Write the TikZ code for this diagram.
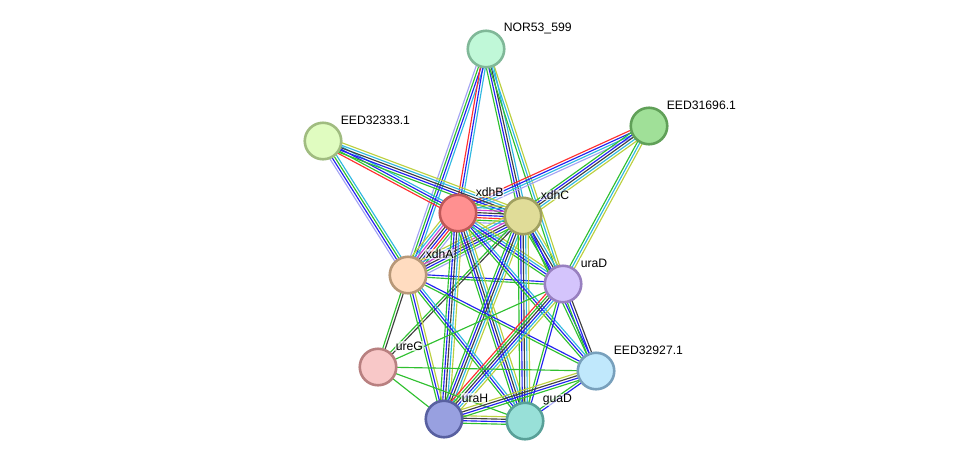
\documentclass[tikz,border=0pt]{standalone}
\usepackage{fontspec}
\setmainfont{Liberation Sans}
\usetikzlibrary{calc,backgrounds}
\definecolor{hom}{HTML}{A4A4F4}
\definecolor{nbr}{HTML}{30C030}
\definecolor{fus}{HTML}{FF3030}
\definecolor{coo}{HTML}{2222F0}
\definecolor{coex}{HTML}{404040}
\definecolor{db}{HTML}{30B8E0}
\definecolor{txt}{HTML}{BCD040}
\definecolor{exp}{HTML}{D040D0}
\definecolor{fnor}{HTML}{C0F8D8}\definecolor{dnor}{HTML}{80B898}
\definecolor{fe316}{HTML}{A0E098}\definecolor{de316}{HTML}{60A058}
\definecolor{fe323}{HTML}{E0FCC0}\definecolor{de323}{HTML}{A0BC80}
\definecolor{fxB}{HTML}{FF9090}\definecolor{dxB}{HTML}{C05858}
\definecolor{fxC}{HTML}{E0DC98}\definecolor{dxC}{HTML}{A0A060}
\definecolor{fxA}{HTML}{FFDCC0}\definecolor{dxA}{HTML}{B89878}
\definecolor{fuD}{HTML}{D4C4FC}\definecolor{duD}{HTML}{9880C0}
\definecolor{fuG}{HTML}{F8C8C8}\definecolor{duG}{HTML}{B88080}
\definecolor{fe329}{HTML}{C0E8FC}\definecolor{de329}{HTML}{78A0BC}
\definecolor{fuH}{HTML}{98A0E0}\definecolor{duH}{HTML}{5860A0}
\definecolor{fgD}{HTML}{98E0D8}\definecolor{dgD}{HTML}{58A098}
\newcommand\bundle[3]{%
  \foreach \c [count=\i] in {#3} {\xdef\bn{\i}}%
  \foreach \c [count=\i] in {#3} {%
    \pgfmathsetmacro\off{(\i-(\bn+1)/2)*2.5}%
    \draw[color=\c, edgeline] ($(#1.center)!\off pt!90:(#2.center)$) -- ($(#2.center)!\off pt!-90:(#1.center)$);
  }%
}
\tikzset{
  prot/.style={circle, minimum size=36.5pt, inner sep=0pt, line width=2.6pt, fill=f#1, draw=d#1},
  edgeline/.style={line width=1.15pt},
  lbl/.style={anchor=west, font=\fontsize{12.2}{13}\selectfont, inner sep=0.6pt, fill=white, fill opacity=0.65, text opacity=1}
}
\begin{document}
\begin{tikzpicture}[x=1pt,y=-1pt]
\useasboundingbox (0,0) rectangle (976,467);
\node[prot=nor] (nor) at (486,49) {};
\node[prot=e316] (e316) at (649,126) {};
\node[prot=e323] (e323) at (323,141) {};
\node[prot=xB] (xB) at (458,213) {};
\node[prot=xC] (xC) at (523,216) {};
\node[prot=xA] (xA) at (408,275) {};
\node[prot=uD] (uD) at (563,284) {};
\node[prot=uG] (uG) at (378,367) {};
\node[prot=e329] (e329) at (596,371) {};
\node[prot=uH] (uH) at (444,419) {};
\node[prot=gD] (gD) at (525,421) {};
\begin{pgfonlayer}{background}
\bundle{nor}{xA}{hom,nbr,coo,db}
\bundle{nor}{xB}{fus,coo,db}
\bundle{nor}{xC}{nbr,coo,coex,db}
\bundle{nor}{uD}{nbr,db,txt}
\bundle{e316}{xB}{fus,coo,db,hom}
\bundle{e316}{xC}{nbr,coo,coex,db,txt}
\bundle{e316}{uD}{nbr,db,txt}
\bundle{e323}{xA}{hom,coo,nbr,db}
\bundle{e323}{xB}{fus,nbr,coo,db}
\bundle{e323}{xC}{nbr,coo,coex,db,txt}
\bundle{xA}{xB}{hom,nbr,fus,coo,coex,exp,db,txt}
\bundle{xB}{xC}{hom,nbr,fus,coo,coex,exp,db,txt}
\bundle{xA}{xC}{hom,nbr,coo,coex,exp,db,txt}
\bundle{xB}{uD}{nbr,coo,db,txt}
\bundle{xC}{uD}{nbr,coo,coex,db,txt}
\bundle{xA}{uD}{nbr,coo}
\bundle{xA}{uG}{nbr,coex}
\bundle{xC}{uG}{nbr,coex}
\bundle{xB}{uH}{nbr,coo,coex,db,txt}
\bundle{xB}{gD}{nbr,coo,coex,db,txt}
\bundle{xC}{uH}{nbr,coo,coex,db,txt}
\bundle{xC}{gD}{nbr,coo,coex,db,txt}
\bundle{xA}{uH}{nbr,coo,txt}
\bundle{xA}{gD}{nbr,coo,db}
\bundle{xA}{e329}{nbr,coo}
\bundle{xB}{e329}{nbr,coo,db}
\bundle{xC}{e329}{nbr,coo}
\bundle{uD}{uH}{fus,nbr,coex,coo,db,txt}
\bundle{uD}{gD}{nbr,coo}
\bundle{uD}{e329}{nbr,coo,coex}
\bundle{uD}{uG}{nbr}
\bundle{uG}{e329}{nbr}
\bundle{uG}{uH}{nbr}
\bundle{uG}{gD}{nbr}
\bundle{uH}{gD}{nbr,coo,coex,txt}
\bundle{uH}{e329}{nbr,coo,coex,txt}
\bundle{gD}{e329}{coo,nbr}
\end{pgfonlayer}
\node[lbl] (lnor) at ($(nor)+(17,-21)$) {NOR53\_599};
\node[lbl] (le316) at ($(e316)+(17,-21)$) {EED31696.1};
\node[lbl] (le323) at ($(e323)+(17,-21)$) {EED32333.1};
\node[lbl] (lxB) at ($(xB)+(17,-21)$) {xdhB};
\node[lbl] (lxC) at ($(xC)+(17,-21)$) {xdhC};
\node[lbl] (lxA) at ($(xA)+(17,-21)$) {xdhA};
\node[lbl] (luD) at ($(uD)+(17,-21)$) {uraD};
\node[lbl] (luG) at ($(uG)+(17,-21)$) {ureG};
\node[lbl] (le329) at ($(e329)+(17,-21)$) {EED32927.1};
\node[lbl] (luH) at ($(uH)+(17,-21)$) {uraH};
\node[lbl] (lgD) at ($(gD)+(17,-21)$) {guaD};
\end{tikzpicture}
\end{document}
